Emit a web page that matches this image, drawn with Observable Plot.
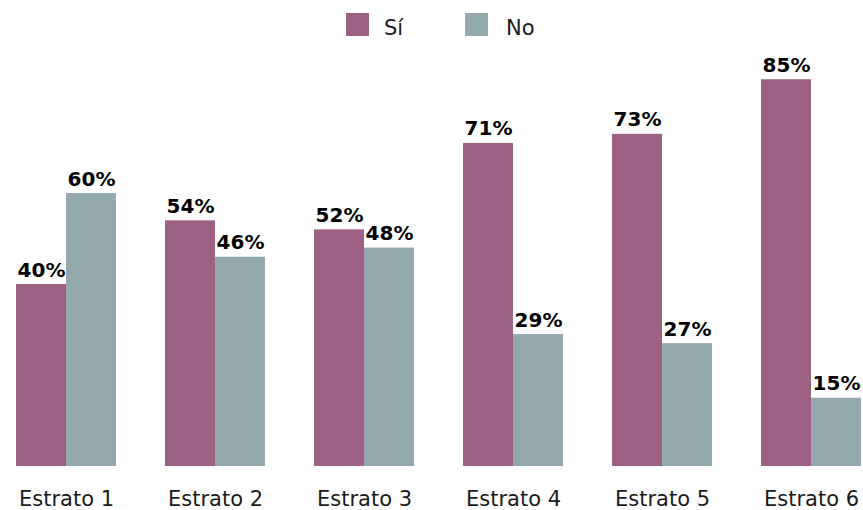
<!DOCTYPE html>
<html>
<head>
<meta charset="utf-8">
<script src="https://cdn.jsdelivr.net/npm/d3@7"></script>
<script src="https://cdn.jsdelivr.net/npm/@observablehq/plot@0.6"></script>
<style>
  body { margin: 0; background: #fff; }
  #wrap { position: relative; width: 863px; height: 510px; font-family: "DejaVu Sans", sans-serif; }
  #legend { position: absolute; top: 13px; left: 0; width: 863px; height: 24px; }
  .sw { position: absolute; top: 0; width: 23px; height: 23px; }
  .lt { position: absolute; top: 3px; font-size: 21px; line-height: 24px; color: #1a1a1a; }
</style>
</head>
<body>
<div id="wrap">
  <div id="chart"></div>
  <div id="legend"></div>
</div>
<script>
const estratos = ["Estrato 1", "Estrato 2", "Estrato 3", "Estrato 4", "Estrato 5", "Estrato 6"];
const series = ["Sí", "No"];
const si = [40, 54, 52, 71, 73, 85];
const no = [60, 46, 48, 29, 27, 15];
const colors = ["#9d6184", "#93a9ae"];

const data = estratos.flatMap((e, i) => [
  {estrato: e, serie: "Sí", value: si[i]},
  {estrato: e, serie: "No", value: no[i]}
]);

const chart = Plot.plot({
  width: 863,
  height: 510,
  marginLeft: 15,
  marginRight: 1,
  marginTop: 0,
  marginBottom: 44,
  style: {fontFamily: "DejaVu Sans, sans-serif", fontSize: "20px", color: "#1a1a1a", background: "transparent"},
  fx: {domain: estratos, paddingInner: 0.33, paddingOuter: 0, label: null},
  x: {domain: series, padding: 0, axis: null},
  y: {domain: [0, 466 / 4.55], axis: null},
  color: {domain: series, range: colors},
  marks: [
    Plot.axisFx({anchor: "bottom", tickSize: 0, tickPadding: 25, fontSize: 21, label: null}),
    Plot.barY(data, {fx: "estrato", x: "serie", y: "value", fill: "serie"}),
    Plot.text(data, {fx: "estrato", x: "serie", y: "value", text: d => d.value + "%", lineAnchor: "bottom", dy: -8, fontWeight: "bold", fill: "#000"})
  ]
});
document.getElementById("chart").appendChild(chart);

const legend = document.getElementById("legend");
const pos = [{sw: 346, tx: 384}, {sw: 465, tx: 506}];
series.forEach((s, i) => {
  const sw = document.createElement("div");
  sw.className = "sw";
  sw.style.left = pos[i].sw + "px";
  sw.style.background = colors[i];
  legend.appendChild(sw);
  const t = document.createElement("div");
  t.className = "lt";
  t.style.left = pos[i].tx + "px";
  t.textContent = s;
  legend.appendChild(t);
});
</script>
</body>
</html>
